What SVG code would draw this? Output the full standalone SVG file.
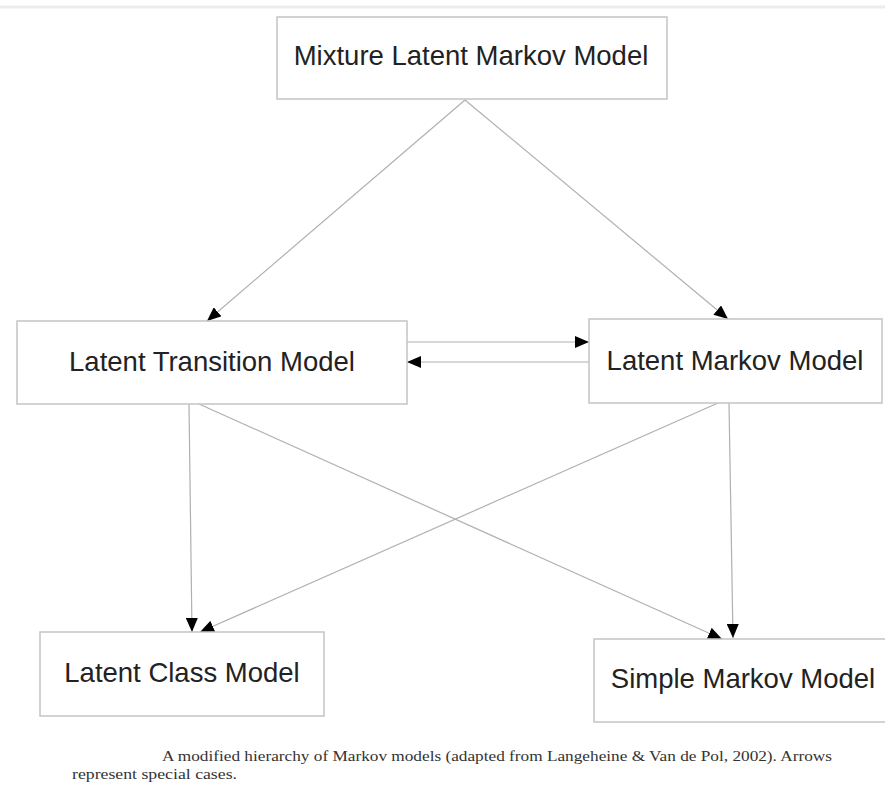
<svg xmlns="http://www.w3.org/2000/svg" width="885" height="789" viewBox="0 0 885 789">
<style>
.box{fill:#fff;stroke:#c4c4c4;stroke-width:1.5}
.lbl{font-family:"Liberation Sans",Arial,sans-serif;font-size:27.5px;fill:#222;text-anchor:middle}
.cap{font-family:"Liberation Serif","Times New Roman",serif;font-size:15.5px;fill:#333}
.edge{stroke:#b0b0b0;stroke-width:1.2;fill:none;marker-end:url(#ah)}
</style>
<defs>
<marker id="ah" markerUnits="userSpaceOnUse" markerWidth="14" markerHeight="12" viewBox="0 0 14 12" refX="14" refY="6" orient="auto">
<path d="M0,0 L14,6 L0,12 Z" fill="#000"/>
</marker>
</defs>
<rect width="885" height="789" fill="#fff"/>
<line x1="0" y1="7" x2="885" y2="7" stroke="#ececec" stroke-width="3"/>
<g id="connectors">
<line class="edge" x1="465" y1="100" x2="207" y2="321"/>
<line class="edge" x1="465" y1="100" x2="728" y2="319"/>
<line class="edge" x1="407" y1="342" x2="589" y2="342"/>
<line class="edge" x1="589" y1="362" x2="407" y2="362"/>
<line class="edge" x1="189" y1="404" x2="192" y2="632"/>
<line class="edge" x1="199" y1="404" x2="722" y2="639"/>
<line class="edge" x1="718" y1="403" x2="200" y2="632"/>
<line class="edge" x1="729" y1="403" x2="733" y2="638"/>
</g>
<g id="mixture-latent-markov-model">
<rect class="box" x="277" y="17" width="390" height="82"/>
<text class="lbl" x="471" y="65">Mixture Latent Markov Model</text>
</g>
<g id="latent-transition-model">
<rect class="box" x="17" y="321" width="390" height="83"/>
<text class="lbl" x="212" y="371">Latent Transition Model</text>
</g>
<g id="latent-markov-model">
<rect class="box" x="589" y="319" width="293" height="84"/>
<text class="lbl" x="735" y="370">Latent Markov Model</text>
</g>
<g id="latent-class-model">
<rect class="box" x="40" y="632" width="284" height="84"/>
<text class="lbl" x="182" y="682">Latent Class Model</text>
</g>
<g id="simple-markov-model">
<rect class="box" x="594" y="639" width="300" height="83"/>
<text class="lbl" x="743" y="688">Simple Markov Model</text>
</g>
<g id="caption">
<text class="cap" x="162" y="761" textLength="670" lengthAdjust="spacingAndGlyphs">A modified hierarchy of Markov models (adapted from Langeheine &amp; Van de Pol, 2002). Arrows</text>
<text class="cap" x="72" y="779" textLength="165" lengthAdjust="spacingAndGlyphs">represent special cases.</text>
</g>
</svg>
